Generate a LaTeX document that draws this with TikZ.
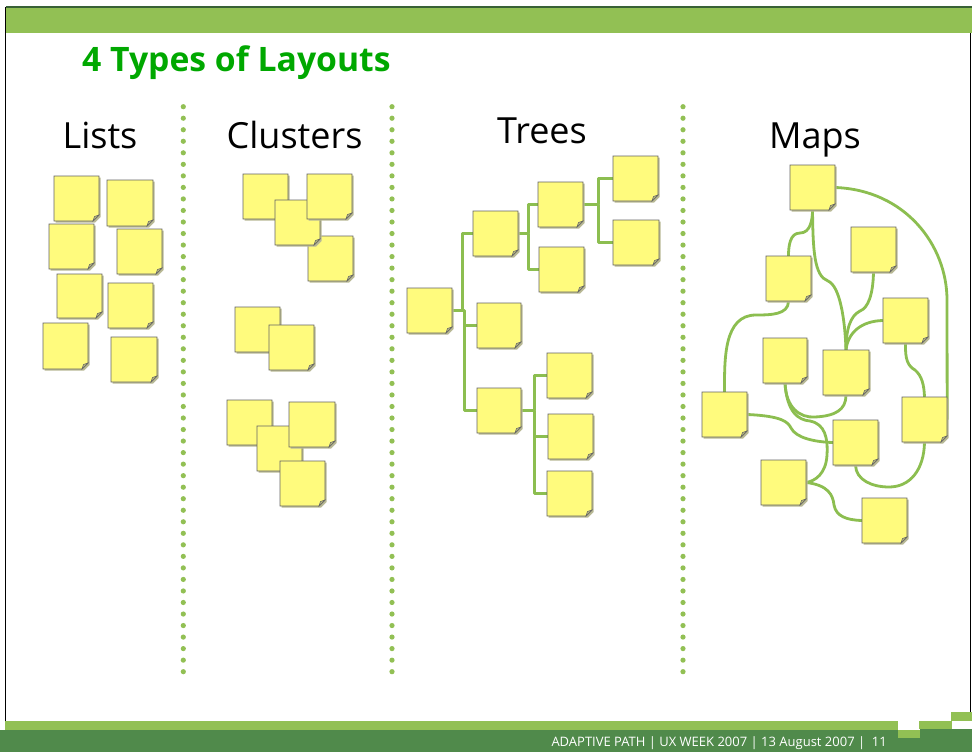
\documentclass[tikz,border=0pt]{standalone}
\usepackage{fontspec}
\setmainfont{Open Sans}
\usetikzlibrary{fit,calc}
\definecolor{lgreen}{RGB}{146,192,84}
\definecolor{dgreen}{RGB}{80,138,75}
\definecolor{tgreen}{RGB}{0,168,0}
\definecolor{linkc}{RGB}{140,190,80}
\definecolor{notey}{RGB}{255,251,125}
\definecolor{noteb}{RGB}{100,100,100}
\definecolor{shad}{RGB}{185,185,150}
\definecolor{foldc}{RGB}{190,190,130}
\tikzset{
  notefill/.style={fill=notey,draw=noteb,line width=0.9pt,line join=miter},
  shadowfill/.style={fill=shad},
  foldfill/.style={fill=foldc,draw=noteb,line width=0.6pt},
  link/.style={draw=linkc,line width=2.8pt,line join=round},
  dotline/.style={fill=lgreen},
  heading/.style={anchor=base,font=\fontsize{36}{40}\selectfont,inner sep=0},
}
\newcommand\stick[5]{%
  \fill[shadowfill] (#2+1.6,#3+1.6) -- (#4+1.6,#3+1.6) -- (#4+1.6,#5-4) -- (#4-4,#5+1.6) -- (#2+1.6,#5+1.6) -- cycle;
  \filldraw[notefill] (#2,#3) -- (#4,#3) -- (#4,#5-6) -- (#4-6,#5) -- (#2,#5) -- cycle;
  \filldraw[foldfill] (#4,#5-6) -- (#4-6,#5) -- (#4-4.5,#5-4.5) -- cycle;
  \node[fit={(#2,#3) (#4,#5)},inner sep=0,outer sep=0] (#1) {};
}
\begin{document}
\begin{tikzpicture}[x=1pt,y=-1pt]
\useasboundingbox (0,0) rectangle (972,752);
\fill[white] (0,0) rectangle (972,752);
% frame
\fill[lgreen] (6,8) rectangle (972,33);
\draw[draw=dgreen!70!black,line width=1.5pt] (6,7) -- (972,7);
\draw[black,line width=1pt] (5,7) -- (5,721);
\draw[black,line width=1pt] (970,33) -- (970,712);
% footer
\fill[dgreen] (0,730) rectangle (898,752);
\fill[dgreen] (898,738) rectangle (920,752);
\fill[dgreen] (920,729) rectangle (972,752);
\fill[lgreen] (5,721) rectangle (898,730);
\fill[lgreen] (898,730) rectangle (920,738);
\fill[lgreen] (919,721) rectangle (952,729);
\fill[lgreen] (951,712) rectangle (972,721);
\node[anchor=base east,text=white,inner sep=0,font=\fontsize{13}{15}\selectfont] (foot) at (887,746.5) {ADAPTIVE PATH \textbar\ UX WEEK 2007 \textbar\ 13 August 2007 \textbar\ \ 11};
% title
\node[anchor=base west,inner sep=0,text=tgreen,font=\fontsize{33.7}{40}\selectfont\bfseries] (title) at (82,72) {4 Types of Layouts};
% headings
\node[heading] (hl) at (100,148) {Lists};
\node[heading] (hc) at (294.5,148) {Clusters};
\node[heading] (ht) at (542,143.5) {Trees};
\node[heading] (hm) at (815,148) {Maps};
% dotted separators
\foreach \xx in {183.3,392,683}{
  \foreach \k in {0,...,49}{
    \fill[dotline] (\xx,106.7+\k*11.53) circle (2.6);
  }
}
% Lists
\stick{l1}{54}{176}{99}{221}
\stick{l2}{107}{180}{153}{226}
\stick{l3}{49}{224}{94}{269}
\stick{l4}{117}{229}{162}{274}
\stick{l5}{57}{274}{102}{318}
\stick{l6}{108}{283}{153}{328}
\stick{l7}{43}{323}{88}{369}
\stick{l8}{111}{337}{157}{382}
% Clusters
\stick{ca}{243}{174}{288}{219}
\stick{cd}{308}{236}{353}{281}
\stick{cc}{275}{200}{320}{245}
\stick{cb}{307}{174}{352}{219}
\stick{ce}{235}{307}{280}{352}
\stick{cf}{269}{325}{314}{370}
\stick{cg}{227}{400}{272}{445}
\stick{ch}{257}{426}{302}{471}
\stick{ci}{289}{402}{335}{447}
\stick{cj}{280}{461}{325}{506}
% Trees - links first
\node[fit={(407,288) (452,333)},inner sep=0] (R) {};
\node[fit={(473,211) (518,256)},inner sep=0] (T1) {};
\node[fit={(477,303) (521,348)},inner sep=0] (T2) {};
\node[fit={(477,388) (521,433)},inner sep=0] (T3) {};
\node[fit={(538,182) (583,227)},inner sep=0] (T1a) {};
\node[fit={(539,247) (584,292)},inner sep=0] (T1b) {};
\node[fit={(613,156) (658,201)},inner sep=0] (T1a1) {};
\node[fit={(613,220) (659,265)},inner sep=0] (T1a2) {};
\node[fit={(547,353) (592,398)},inner sep=0] (T3a) {};
\node[fit={(548,414) (593,459)},inner sep=0] (T3b) {};
\node[fit={(547,471) (592,516)},inner sep=0] (T3c) {};
\draw[link] (R.east) -- ++(10,0) |- (T1.west);
\draw[link] (R.east) -- ++(12,0) |- (T3.west);
\draw[link] (R.east) ++(12,0) |- (T2.west);
\draw[link] (T1.east) -- ++(10,0) |- (T1a.west);
\draw[link] (T1.east) ++(10,0) |- (T1b.west);
\draw[link] (T1a.east) -- ++(15,0) |- (T1a1.west);
\draw[link] (T1a.east) ++(15,0) |- (T1a2.west);
\draw[link] (T3.east) -- ++(13,0) |- (T3a.west);
\draw[link] (T3.east) ++(13,0) |- (T3b.west);
\draw[link] (T3.east) ++(13,0) |- (T3c.west);
\stick{R}{407}{288}{452}{333}
\stick{T1}{473}{211}{518}{256}
\stick{T2}{477}{303}{521}{348}
\stick{T3}{477}{388}{521}{433}
\stick{T1a}{538}{182}{583}{227}
\stick{T1b}{539}{247}{584}{292}
\stick{T1a1}{613}{156}{658}{201}
\stick{T1a2}{613}{220}{659}{265}
\stick{T3a}{547}{353}{592}{398}
\stick{T3b}{548}{414}{593}{459}
\stick{T3c}{547}{471}{592}{516}
% Maps - node frames for links
\node[fit={(790,165) (835,210)},inner sep=0] (M1) {};
\node[fit={(851,227) (896,272)},inner sep=0] (M2) {};
\node[fit={(766,256) (811,301)},inner sep=0] (M3) {};
\node[fit={(883,298) (928,343)},inner sep=0] (M4) {};
\node[fit={(763,338) (807,383)},inner sep=0] (M5) {};
\node[fit={(823,350) (869,395)},inner sep=0] (M6) {};
\node[fit={(702,392) (747,437)},inner sep=0] (M7) {};
\node[fit={(902,397) (947,442)},inner sep=0] (M8) {};
\node[fit={(833,420) (878,465)},inner sep=0] (M9) {};
\node[fit={(761,460) (806,505)},inner sep=0] (M10) {};
\node[fit={(862,498) (907,543)},inner sep=0] (M11) {};
\draw[link] (M1.east) .. controls (905,190) and (947,245) .. (947,300) -- (M8.east);
\draw[link] (M1.south) to[out=-90,in=0] (800,233) to[out=180,in=90] (M3.north);
\draw[link] (M1.south) .. controls (813,250) and (814,276) .. (828,281) .. controls (840,286) and (845,320) .. (M6.north);
\draw[link] (M2.south) .. controls (873,295) and (868,308) .. (860,311) .. controls (850,316) and (846,330) .. (M6.north);
\draw[link] (M4.west) .. controls (862,321) and (848,332) .. (M6.north);
\draw[link] (M4.south) .. controls (905,360) and (908,366) .. (915,370) .. controls (922,376) and (924,385) .. (M8.north);
\draw[link] (M3.south) to[out=-90,in=0] (756,315) to[out=180,in=90] (M7.north);
\draw[link] (M5.south) .. controls (786,408) and (800,418) .. (815,417) .. controls (835,416) and (846,410) .. (M6.south);
\draw[link] (M5.south) .. controls (787,412) and (798,420) .. (810,421) .. controls (825,424) and (828,438) .. (827,455) .. controls (826,474) and (815,481) .. (M10.east);
\draw[link] (M7.east) .. controls (782,416) and (788,422) .. (791,428) .. controls (796,438) and (815,442) .. (M9.west);
\draw[link] (M9.south) .. controls (856,480) and (872,487) .. (889,487) .. controls (910,487) and (924,470) .. (M8.south);
\draw[link] (M10.east) .. controls (828,485) and (833,495) .. (834,505) .. controls (836,516) and (846,520) .. (M11.west);
\stick{M1}{790}{165}{835}{210}
\stick{M2}{851}{227}{896}{272}
\stick{M3}{766}{256}{811}{301}
\stick{M4}{883}{298}{928}{343}
\stick{M5}{763}{338}{807}{383}
\stick{M6}{823}{350}{869}{395}
\stick{M7}{702}{392}{747}{437}
\stick{M8}{902}{397}{947}{442}
\stick{M9}{833}{420}{878}{465}
\stick{M10}{761}{460}{806}{505}
\stick{M11}{862}{498}{907}{543}
\end{tikzpicture}
\end{document}
